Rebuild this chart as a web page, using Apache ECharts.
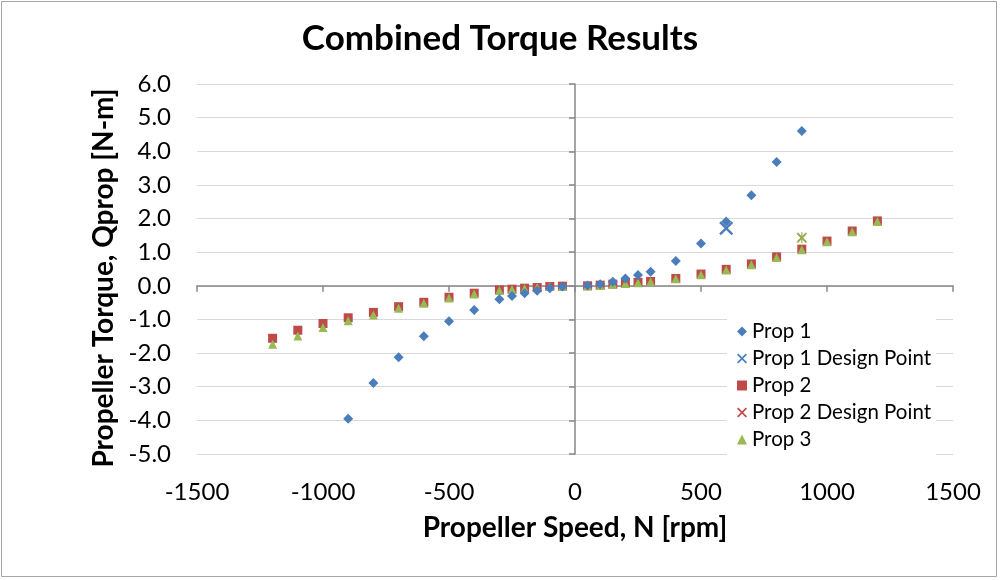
<!DOCTYPE html>
<html><head><meta charset="utf-8">
<script src="https://cdn.jsdelivr.net/npm/echarts@6/dist/echarts.min.js"></script>
<style>html,body{margin:0;padding:0;background:#fff}#c{width:1000px;height:580px}</style>
</head><body><div id="c"></div>
<script>
const speedNeg = [-1200,-1100,-1000,-900,-800,-700,-600,-500,-400,-300,-250,-200,-150,-100,-50];
const speedPos = [50,100,150,200,250,300,400,500,600,700,800,900,1000,1100,1200];

const prop1Speed = [-900,-800,-700,-600,-500,-400,-300,-250,-200,-150,-100,-50,50,100,150,200,250,300,400,500,600,700,800,900];
const prop1Torque = [-3.95,-2.89,-2.12,-1.50,-1.05,-0.72,-0.40,-0.30,-0.22,-0.15,-0.07,-0.02,0.01,0.05,0.12,0.22,0.32,0.42,0.74,1.26,1.91,2.69,3.68,4.60];

const prop2TorqueNeg = [-1.56,-1.32,-1.12,-0.95,-0.79,-0.62,-0.49,-0.34,-0.22,-0.12,-0.10,-0.07,-0.05,-0.02,-0.01];
const prop2TorquePos = [0.00,0.02,0.05,0.08,0.10,0.13,0.22,0.35,0.49,0.65,0.86,1.09,1.33,1.63,1.93];

const prop3TorqueNeg = [-1.74,-1.49,-1.24,-1.04,-0.87,-0.67,-0.52,-0.36,-0.24,-0.14,-0.11,-0.08,-0.05,-0.02,-0.01];
const prop3TorquePos = [0.00,0.01,0.04,0.07,0.09,0.12,0.21,0.33,0.47,0.63,0.84,1.07,1.31,1.61,1.91];

const prop1Design = [600, 1.71];
const prop2Design = [900, 1.43];
const prop3Design = [900, 1.43];

const xTicks = {min:-1500, max:1500, interval:500};
const yTicks = {min:-5, max:6, interval:1};

const BLUE='#4A7EBB', RED='#BE4B48', GREEN='#98B954';
const FONT='Lato';
const X_PATH='path://M0,1.2 L1.2,0 L5,3.8 L8.8,0 L10,1.2 L6.2,5 L10,8.8 L8.8,10 L5,6.2 L1.2,10 L0,8.8 L3.8,5 Z';
const STAR_PATH='path://M0,1.2 L1.2,0 L5,3.8 L8.8,0 L10,1.2 L6.2,5 L10,8.8 L8.8,10 L5,6.2 L1.2,10 L0,8.8 L3.8,5 Z M4.3,0 L5.7,0 L5.7,10 L4.3,10 Z';

const zip=(a,b)=>a.map((v,i)=>[v,b[i]]);
const prop2 = zip(speedNeg,prop2TorqueNeg).concat(zip(speedPos,prop2TorquePos));
const prop3 = zip(speedNeg,prop3TorqueNeg).concat(zip(speedPos,prop3TorquePos));

const chart = echarts.init(document.getElementById('c'));
chart.setOption({
  animation:false,
  backgroundColor:'#fff',
  graphic:[{type:'rect',shape:{x:1.5,y:1.5,width:995,height:575},style:{fill:'none',stroke:'#a6a6a6',lineWidth:1}}],
  title:{text:'Combined Torque Results',left:'center',top:16,
    textStyle:{fontFamily:FONT,fontWeight:'bold',fontSize:35,color:'#000'}},
  grid:{left:197,right:47,top:84,bottom:126},
  legend:{orient:'vertical',left:727,top:315,itemGap:6,itemWidth:10,itemHeight:10,
    backgroundColor:'#fff',padding:[6,5,6,10],
    textStyle:{fontFamily:FONT,fontSize:20.5,color:'#000'},
    data:['Prop 1','Prop 1 Design Point','Prop 2','Prop 2 Design Point','Prop 3']},
  xAxis:[
    {type:'value',min:xTicks.min,max:xTicks.max,interval:xTicks.interval,position:'bottom',
     axisLine:{show:false,onZero:false},axisTick:{show:false},splitLine:{show:false},
     axisLabel:{fontFamily:FONT,fontSize:24,color:'#000',margin:26,formatter:v=>String(v)},
     name:'Propeller Speed, N [rpm]',nameLocation:'middle',nameGap:60,
     nameTextStyle:{fontFamily:FONT,fontWeight:'bold',fontSize:28,color:'#000'}},
    {type:'value',min:xTicks.min,max:xTicks.max,interval:xTicks.interval,position:'bottom',
     axisLine:{show:true,onZero:true,lineStyle:{color:'#868686',width:1.5}},
     axisTick:{show:true,inside:false,length:6,lineStyle:{color:'#868686',width:1.5}},
     axisLabel:{show:false},splitLine:{show:false}}
  ],
  yAxis:[
    {type:'value',min:yTicks.min,max:yTicks.max,interval:yTicks.interval,position:'left',
     axisLine:{show:false,onZero:false},axisTick:{show:false},
     splitLine:{show:true,lineStyle:{color:'#d9d9d9',width:1}},
     axisLabel:{fontFamily:FONT,fontSize:24,color:'#000',margin:26,formatter:v=>v.toFixed(1)},
     name:'Propeller Torque, Qprop [N-m]',nameLocation:'middle',nameGap:70,
     nameTextStyle:{fontFamily:FONT,fontWeight:'bold',fontSize:28,color:'#000',padding:[0,18,0,0]}},
    {type:'value',min:yTicks.min,max:yTicks.max,interval:yTicks.interval,position:'right',
     axisLine:{show:true,onZero:true,lineStyle:{color:'#868686',width:1.5}},
     axisTick:{show:true,inside:true,length:6,lineStyle:{color:'#868686',width:1.5}},
     axisLabel:{show:false},splitLine:{show:false}}
  ],
  series:[
    {name:'Prop 1',type:'scatter',symbol:'diamond',symbolSize:10,
     itemStyle:{color:BLUE,opacity:1},data:zip(prop1Speed,prop1Torque),z:5},
    {name:'Prop 1 Design Point',type:'scatter',symbol:X_PATH,symbolSize:14,
     itemStyle:{color:BLUE,opacity:1},data:[prop1Design],z:6},
    {name:'Prop 2',type:'scatter',symbol:'rect',symbolSize:9,
     itemStyle:{color:RED,opacity:1},data:prop2,z:3},
    {name:'Prop 2 Design Point',type:'scatter',symbol:X_PATH,symbolSize:9,
     itemStyle:{color:RED,opacity:1},data:[prop2Design],z:6},
    {name:'Prop 3',type:'scatter',symbol:'triangle',symbolSize:9,
     itemStyle:{color:GREEN,opacity:1},data:prop3,z:4},
    {name:'Prop 3 Design Point',type:'scatter',symbol:STAR_PATH,symbolSize:11,
     itemStyle:{color:GREEN,opacity:0.8},data:[prop3Design],z:7}
  ]
});
</script></body></html>
